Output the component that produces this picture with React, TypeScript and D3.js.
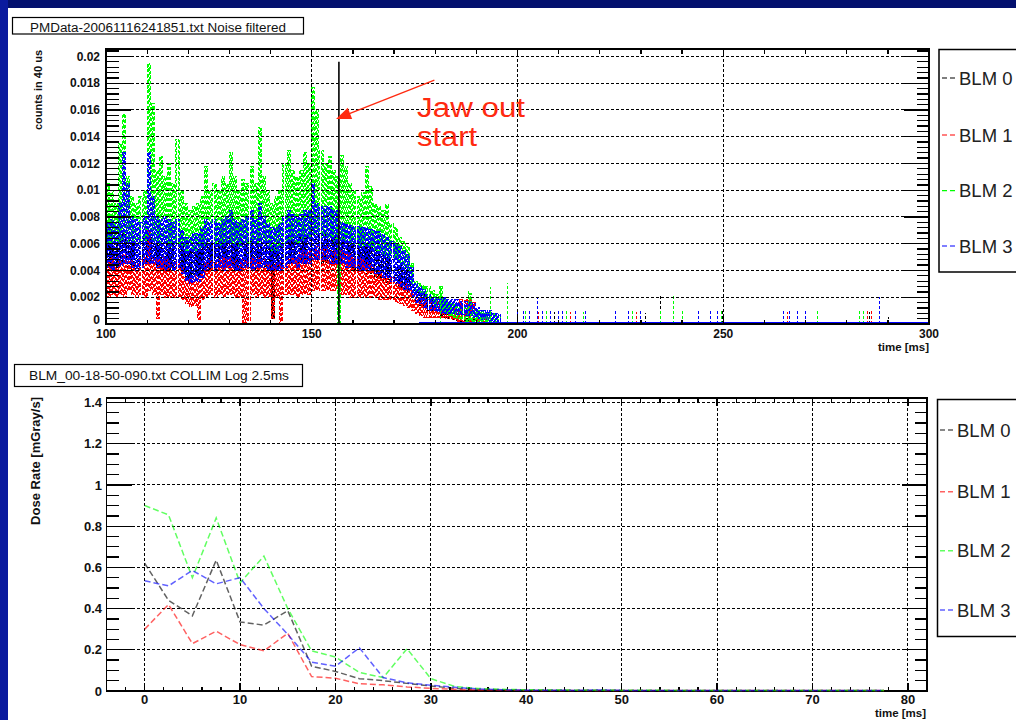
import React from "react";
import * as d3 from "d3";

// ================= TOP PANEL: PMData-20061116241851.txt Noise filtered =================
// Values in units of 0.001 "counts in 40 us". One column per ms starting at pmStartMs.
// hi = top of the noise band in that ms, lo = bottom of the band in that ms.
const pmStartMs = 100;

const blm0Hi = [
  6.0, 6.2, 6.0, 6.5, 7.0, 6.5, 6.0, 6.0, 6.2, 6.5,
  7.0, 6.5, 6.0, 6.0, 6.2, 6.0, 6.0, 6.2, 5.8, 5.5,
  5.5, 5.6, 5.6, 6.0, 6.2, 6.0, 6.0, 6.2, 6.0, 6.2,
  6.5, 6.0, 6.0, 6.0, 6.2, 6.2, 6.0, 6.5, 6.0, 6.0,
  5.8, 5.8, 6.0, 6.2, 6.5, 6.5, 6.2, 6.5, 6.5, 6.5,
  7.0, 7.0, 6.8, 6.8, 6.8, 6.5, 6.5, 6.5, 6.2, 6.2,
  6.0, 6.0, 6.0, 5.8, 5.8, 5.5, 5.5, 5.2, 5.0, 4.8,
  4.6, 4.4, 4.2, 4.0, 3.2, 2.6, 2.4, 2.2, 2.0, 1.8,
  1.6, 1.5, 1.2, 1.0, 0.8, 0.6, 0.5, 0.4, 0.4, 0.3,
  0, 0, 0, 0, 0, 0,
];
const blm0Lo = [
  4.0, 4.2, 4.0, 4.5, 4.5, 4.2, 4.0, 4.0, 4.2, 4.5,
  4.5, 4.5, 4.2, 4.0, 4.2, 4.0, 4.0, 4.2, 3.8, 3.5,
  3.5, 3.6, 3.6, 4.0, 4.2, 4.0, 4.0, 4.2, 4.0, 4.2,
  4.5, 4.0, 4.0, 4.2, 4.2, 4.2, 4.0, 4.5, 4.2, 4.0,
  0.4, 4.0, 4.0, 4.2, 4.5, 4.5, 4.2, 4.5, 4.5, 4.5,
  4.8, 4.8, 4.5, 4.5, 4.5, 4.5, 4.5, 4.5, 4.2, 4.2,
  4.0, 4.0, 4.0, 3.8, 3.8, 3.5, 3.5, 3.2, 3.0, 3.0,
  2.8, 2.6, 2.5, 2.4, 2.0, 1.6, 1.4, 1.2, 1.0, 1.0,
  0.8, 0.6, 0.5, 0.4, 0.3, 0.2, 0, 0, 0, 0,
  0, 0, 0, 0, 0, 0,
];
const blm1Hi = [
  4.8, 5.0, 4.6, 5.0, 5.2, 5.0, 4.8, 4.6, 4.8, 5.0,
  7.0, 5.0, 4.8, 4.8, 5.0, 4.8, 4.6, 4.8, 4.2, 3.5,
  3.4, 3.6, 3.5, 4.0, 4.6, 4.8, 4.6, 4.8, 5.0, 4.8,
  5.0, 4.8, 4.6, 4.8, 4.8, 5.0, 4.8, 5.0, 4.8, 4.6,
  4.4, 4.5, 4.6, 4.8, 5.0, 5.2, 5.0, 5.4, 5.5, 5.5,
  5.8, 5.8, 5.6, 5.8, 5.6, 5.6, 5.5, 5.5, 5.4, 5.2,
  5.0, 5.0, 4.8, 4.6, 4.5, 4.2, 4.0, 3.8, 3.6, 3.5,
  3.4, 3.2, 3.0, 3.0, 2.5, 2.2, 2.0, 2.0, 1.8, 1.8,
  1.8, 1.6, 1.5, 1.5, 1.2, 1.0, 1.8, 1.8, 1.8, 1.6,
  0.5, 0.4, 0.3, 0, 0, 0,
];
const blm1Lo = [
  2.0, 2.2, 2.0, 2.2, 2.0, 2.5, 2.2, 2.0, 2.2, 2.0,
  2.5, 2.2, 0.4, 2.2, 2.0, 2.0, 2.0, 2.0, 1.8, 1.5,
  1.3, 1.4, 0.3, 1.8, 2.0, 2.2, 2.0, 2.2, 2.0, 2.2,
  2.2, 2.0, 2.0, 0, 0, 2.2, 2.0, 2.2, 2.0, 2.0,
  0.4, 2.0, 0, 2.2, 2.2, 2.2, 2.0, 2.2, 2.2, 2.2,
  2.5, 2.5, 2.5, 2.5, 2.5, 2.5, 2.2, 2.2, 2.2, 2.0,
  2.0, 2.0, 2.0, 2.0, 2.0, 2.0, 1.8, 1.8, 1.8, 1.8,
  1.6, 1.5, 1.4, 1.2, 1.0, 0.8, 0.6, 0.5, 0.5, 0.5,
  0.5, 0.5, 0.4, 0.4, 0.3, 0.2, 0.2, 0, 0, 0,
  0, 0, 0, 0, 0, 0,
];
const blm2Hi = [
  10.5, 10.0, 9.0, 13.5, 15.7, 11.0, 9.5, 9.0, 9.5, 10.0,
  19.5, 16.5, 11.5, 12.5, 11.0, 12.0, 10.5, 13.8, 10.0, 9.0,
  8.5, 8.8, 9.0, 9.5, 11.8, 10.0, 10.5, 10.0, 11.0, 10.5,
  12.8, 11.0, 10.0, 10.8, 10.5, 11.8, 10.5, 14.7, 11.0, 10.0,
  9.0, 9.5, 10.0, 12.0, 13.0, 11.5, 11.0, 11.5, 12.8, 12.0,
  17.7, 16.0, 13.0, 12.0, 12.5, 11.5, 11.0, 12.6, 11.8, 10.5,
  10.0, 9.5, 9.8, 11.8, 10.3, 9.0, 8.8, 8.5, 8.9, 7.5,
  7.2, 6.5, 6.2, 5.8, 4.5, 3.2, 3.0, 2.9, 2.8, 2.5,
  2.2, 2.8, 1.8, 1.6, 1.5, 1.4, 1.2, 1.2, 2.3, 1.0,
  1.0, 1.0, 0.8, 0.8, 0.8, 0.6,
];
const blm2Lo = [
  6.0, 6.0, 6.2, 6.0, 6.2, 6.0, 6.0, 5.8, 6.0, 6.0,
  6.5, 6.2, 6.0, 6.0, 6.0, 5.8, 6.0, 6.0, 5.8, 5.5,
  5.5, 5.5, 5.5, 5.8, 6.0, 6.0, 6.0, 5.8, 6.0, 6.0,
  6.0, 6.0, 5.8, 6.0, 6.0, 6.0, 6.0, 6.2, 6.0, 5.8,
  5.5, 5.5, 5.8, 6.0, 6.2, 6.2, 6.0, 6.2, 6.5, 6.5,
  6.8, 6.8, 6.5, 6.5, 6.5, 6.2, 0, 6.2, 6.0, 6.0,
  6.0, 5.8, 5.8, 5.8, 5.8, 5.5, 5.5, 5.2, 5.0, 5.0,
  4.8, 4.5, 4.2, 4.0, 3.0, 2.4, 2.2, 2.0, 1.8, 1.5,
  1.2, 1.0, 0.8, 0.6, 0.5, 0.4, 0.3, 0.2, 0.2, 0,
  0, 0, 0, 0, 0, 0,
];
const blm3Hi = [
  7.5, 7.8, 7.6, 9.0, 12.8, 10.5, 8.0, 7.8, 7.6, 8.0,
  12.8, 9.5, 8.0, 7.8, 8.0, 7.8, 7.6, 7.8, 7.0, 6.5,
  6.5, 6.8, 6.8, 7.2, 7.8, 7.6, 7.8, 7.5, 7.8, 8.0,
  8.5, 7.8, 7.6, 7.8, 8.0, 8.5, 7.8, 9.0, 8.0, 7.5,
  7.2, 7.2, 7.5, 8.0, 8.5, 8.2, 8.0, 8.2, 8.5, 8.5,
  10.5, 9.0, 8.8, 8.8, 8.8, 8.5, 8.5, 7.6, 7.5, 7.4,
  7.3, 7.3, 7.2, 7.2, 7.1, 7.0, 6.9, 6.7, 6.5, 6.2,
  6.0, 5.8, 5.5, 5.2, 4.2, 3.0, 2.8, 2.6, 2.2, 2.0,
  2.0, 2.0, 2.0, 1.8, 1.8, 1.8, 1.7, 1.7, 1.6, 1.5,
  1.2, 1.0, 1.0, 1.0, 0.8, 0.8,
];
const blm3Lo = [
  4.2, 4.0, 4.3, 4.4, 4.5, 4.5, 4.2, 4.0, 4.2, 4.5,
  4.5, 4.5, 4.2, 4.2, 4.0, 4.2, 4.0, 4.2, 3.8, 3.2,
  3.0, 3.2, 3.2, 3.5, 4.0, 4.2, 4.0, 4.2, 4.0, 4.2,
  4.2, 4.0, 4.0, 4.2, 4.2, 4.0, 4.2, 4.2, 4.2, 4.0,
  4.0, 4.0, 4.0, 4.2, 4.5, 4.5, 4.2, 4.5, 4.5, 4.5,
  4.8, 4.8, 4.8, 4.8, 4.5, 4.5, 4.5, 4.5, 4.2, 4.2,
  4.2, 4.0, 4.0, 4.0, 4.0, 3.8, 3.8, 3.5, 3.5, 3.2,
  3.0, 2.8, 2.6, 2.5, 2.0, 1.6, 1.5, 1.2, 1.0, 1.0,
  0.9, 0.8, 0.8, 0.8, 0.8, 0.7, 0.7, 0.6, 0.6, 0.5,
  0.4, 0.3, 0.3, 0.2, 0, 0,
];

// isolated late noise bins: [time ms, value in 0.001]
const blm0Spikes: [number, number][] = [
  [209, 0.9], [231, 0.8], [234.8, 2.1], [249.8, 1.0], [285.5, 0.9], [290.2, 0.5],
];
const blm1Spikes: [number, number][] = [
  [205, 0.9], [213, 0.9], [229, 0.9], [265.5, 0.9], [273, 1.0], [285, 1.0], [286, 1.0],
];
const blm2Spikes: [number, number][] = [
  [181.2, 2.8], [188, 2.5], [193.5, 2.8], [197.5, 3.1], [202, 1.0], [207, 1.0], [212, 1.0],
  [216, 0.9], [228, 1.0], [234.8, 1.0], [237.8, 2.1], [240, 1.0], [249.5, 1.0], [273, 1.0],
  [283, 1.0], [284, 1.0],
];
const blm3Spikes: [number, number][] = [
  [199.9, 1.0], [201.5, 1.0], [203, 1.0], [204.8, 2.0], [206, 1.0], [208, 1.0], [210, 1.0],
  [211, 1.0], [214, 1.0], [216.5, 1.0], [223.8, 1.0], [227, 1.0], [230, 1.0], [243.9, 1.0],
  [247, 1.0], [248.5, 1.0], [264.7, 1.0], [266, 1.0], [268, 1.0], [270, 1.0], [287.9, 2.0],
];
const zeroRun = [176, 300]; // histograms sitting on zero

const pmXTicks = [100, 150, 200, 250, 300];
const pmYTicks = [0, 2, 4, 6, 8, 10, 12, 14, 16, 18, 20];

// annotation "Jaw out start"
const jawOutMs = 156.6;
const jawMarkTop = 19.6;
const arrowTail: [number, number] = [179.8, 18.24];
const arrowTip: [number, number] = [155.9, 15.33];
const jawLines = ["Jaw out", "start"];
const jawTextAt: [number, number][] = [[175.6, 15.48], [175.6, 13.31]];

// ================= BOTTOM PANEL: BLM_00-18-50-090.txt COLLIM Log 2.5ms =================
const doseTimes = [0, 2.5, 5, 7.5, 10, 12.5, 15, 17.5, 20, 22.5, 25, 27.5, 30, 32.5, 35, 37.5,
  40, 42.5, 45, 47.5, 50, 52.5, 55, 57.5, 60, 62.5, 65, 67.5, 70, 72.5, 75, 77.5];
const doseBlm0 = [0.62, 0.44, 0.365, 0.635, 0.335, 0.32, 0.39, 0.12, 0.095, 0.06, 0.05, 0.037, 0.024, 0.013, 0.008, 0.006,
  0.004, 0.004, 0.003, 0.004, 0.003, 0.003, 0.002, 0.003, 0.003, 0.002, 0.002, 0.003, 0.002, 0.002, 0.002, 0.002];
const doseBlm1 = [0.30, 0.42, 0.23, 0.29, 0.225, 0.195, 0.28, 0.07, 0.062, 0.035, 0.03, 0.02, 0.013, 0.008, 0.005, 0.004,
  0.003, 0.003, 0.003, 0.002, 0.002, 0.003, 0.002, 0.002, 0.002, 0.002, 0.002, 0.002, 0.003, 0.002, 0.002, 0.002];
const doseBlm2 = [0.90, 0.855, 0.55, 0.84, 0.525, 0.655, 0.40, 0.195, 0.165, 0.09, 0.065, 0.205, 0.06, 0.022, 0.012, 0.008,
  0.006, 0.005, 0.004, 0.004, 0.003, 0.004, 0.003, 0.003, 0.003, 0.003, 0.003, 0.003, 0.003, 0.003, 0.003, 0.003];
const doseBlm3 = [0.535, 0.51, 0.585, 0.52, 0.55, 0.40, 0.275, 0.14, 0.12, 0.21, 0.065, 0.04, 0.028, 0.018, 0.01, 0.006,
  0.004, 0.004, 0.003, 0.005, 0.003, 0.003, 0.002, 0.003, 0.002, 0.002, 0.002, 0.002, 0.002, 0.002, 0.002, 0.002];
const doseXTicks = [0, 10, 20, 30, 40, 50, 60, 70, 80];
const doseYTicks = [0, 0.2, 0.4, 0.6, 0.8, 1, 1.2, 1.4];

const legendNames = ["BLM 0", "BLM 1", "BLM 2", "BLM 3"];
const seriesColors = ["#000000", "#ff0000", "#00ff00", "#0000ff"];

const FONT = "'Liberation Sans', Arial, Helvetica, sans-serif";

type Sc = d3.ScaleLinear<number, number>;

function AxisFrame(props: {
  x: Sc; y: Sc; xMajor: number[]; xMinor: number[]; yMajor: number[]; yMinor: number[];
  xGrid: number[]; yGrid: number[];
}) {
  const { x, y, xMajor, xMinor, yMajor, yMinor, xGrid, yGrid } = props;
  const [x0, x1] = x.range();
  const [y1, y0] = y.range();
  const els: React.ReactNode[] = [];
  xGrid.forEach((v, i) =>
    els.push(<line key={"gx" + i} x1={x(v)} x2={x(v)} y1={y0} y2={y1} stroke="#000" strokeWidth={1} strokeDasharray="3,2" shapeRendering="crispEdges" />)
  );
  yGrid.forEach((v, i) =>
    els.push(<line key={"gy" + i} x1={x0} x2={x1} y1={y(v)} y2={y(v)} stroke="#000" strokeWidth={1} strokeDasharray="3,2" shapeRendering="crispEdges" />)
  );
  const tick = (k: string, a: number, b: number, c: number, d: number) =>
    els.push(<line key={k} x1={a} y1={b} x2={c} y2={d} stroke="#000" strokeWidth={1.3} shapeRendering="crispEdges" />);
  yMajor.forEach((v, i) => { tick("yl" + i, x0, y(v), x0 + 25, y(v)); tick("yr" + i, x1 - 25, y(v), x1, y(v)); });
  yMinor.forEach((v, i) => { tick("yml" + i, x0, y(v), x0 + 12.5, y(v)); tick("ymr" + i, x1 - 12.5, y(v), x1, y(v)); });
  xMajor.forEach((v, i) => { tick("xb" + i, x(v), y1, x(v), y1 - 8); tick("xt" + i, x(v), y0, x(v), y0 + 8); });
  xMinor.forEach((v, i) => { tick("xmb" + i, x(v), y1, x(v), y1 - 4.5); tick("xmt" + i, x(v), y0, x(v), y0 + 4.5); });
  els.push(<rect key="frame" x={x0} y={y0} width={x1 - x0} height={y1 - y0} fill="none" stroke="#000" strokeWidth={1.5} shapeRendering="crispEdges" />);
  return <g>{els}</g>;
}

export default function App() {
  // scales
  const xT = d3.scaleLinear().domain([100, 300]).range([106, 929]);
  const yT = d3.scaleLinear().domain([0, 20.56]).range([324, 49]);
  const xB = d3.scaleLinear().domain([-4, 82]).range([106.5, 927]);
  const yB = d3.scaleLinear().domain([0, 1.422]).range([691, 398]);

  const pmSeries = [
    { hi: blm0Hi, lo: blm0Lo, spikes: blm0Spikes, color: seriesColors[0] },
    { hi: blm1Hi, lo: blm1Lo, spikes: blm1Spikes, color: seriesColors[1] },
    { hi: blm2Hi, lo: blm2Lo, spikes: blm2Spikes, color: seriesColors[2] },
    { hi: blm3Hi, lo: blm3Lo, spikes: blm3Spikes, color: seriesColors[3] },
  ];
  const histLine = d3.line<[number, number]>().x((d) => xT(d[0])).y((d) => yT(d[1])).curve(d3.curveStepAfter);
  const histPath = (hi: number[], lo: number[]) => {
    const pts: [number, number][] = [];
    hi.forEach((h, i) => {
      const t = pmStartMs + i;
      pts.push([t, h], [t + 0.25, lo[i]], [t + 0.5, h], [t + 0.75, lo[i]]);
    });
    pts.push([pmStartMs + hi.length, lo[lo.length - 1]]);
    return histLine(pts) || "";
  };

  const doseSeries = [doseBlm0, doseBlm1, doseBlm2, doseBlm3];
  const doseLine = d3.line<number>().x((_, i) => xB(doseTimes[i])).y((d) => yB(d));

  // arrow geometry
  const tx = xT(arrowTip[0]), ty = yT(arrowTip[1]);
  const sx = xT(arrowTail[0]), sy = yT(arrowTail[1]);
  const len = Math.hypot(tx - sx, ty - sy);
  const ux = (tx - sx) / len, uy = (ty - sy) / len;
  const hl = 15, hw = 6;
  const bx = tx - ux * hl, by = ty - uy * hl;
  const head = `${tx},${ty} ${bx - uy * hw},${by + ux * hw} ${bx + uy * hw},${by - ux * hw}`;

  const tickFont = { fontFamily: FONT, fontWeight: 700 as const, fill: "#111" };

  return (
    <div style={{ position: "absolute", left: 0, top: 0 }}>
      <svg width={1016} height={720} style={{ display: "block" }}>
        <rect x={0} y={0} width={1016} height={720} fill="#ffffff" />
        <rect x={0} y={0} width={1016} height={8} fill="#03106e" />
        <rect x={0} y={0} width={8} height={720} fill="#0a1a9e" />

        {/* ===== top panel ===== */}
        <rect x={12.5} y={17.5} width={291} height={16.5} fill="#fff" stroke="#000" strokeWidth={1.2} />
        <text x={158} y={31.5} textAnchor="middle" fontFamily={FONT} fontSize={12.5} fill="#111" textLength={256} lengthAdjust="spacingAndGlyphs">
          PMData-20061116241851.txt Noise filtered
        </text>

        <g>
          {pmSeries.map((s, i) => (
            <path key={"h" + i} d={histPath(s.hi, s.lo)} fill="none" stroke={s.color} strokeWidth={1} strokeDasharray="4,2,3,1.5" shapeRendering="crispEdges" />
          ))}
          {pmSeries.map((s, i) =>
            s.spikes.map((p, j) => (
              <line key={"s" + i + "_" + j} x1={xT(p[0])} x2={xT(p[0])} y1={yT(0)} y2={yT(p[1])} stroke={s.color} strokeWidth={1} strokeDasharray="3,2" shapeRendering="crispEdges" />
            ))
          )}
          <line x1={xT(zeroRun[0])} x2={xT(zeroRun[1])} y1={yT(0) - 1} y2={yT(0) - 1} stroke={seriesColors[3]} strokeWidth={2} shapeRendering="crispEdges" />
        </g>

        <AxisFrame x={xT} y={yT} xMajor={pmXTicks} xMinor={d3.range(100, 301, 10)}
          yMajor={pmYTicks} yMinor={d3.range(0, 20.5, 0.4)}
          xGrid={[150, 200, 250]} yGrid={pmYTicks.filter((v) => v > 0)} />

        <line x1={xT(jawOutMs)} x2={xT(jawOutMs)} y1={yT(0)} y2={yT(jawMarkTop)} stroke="#000" strokeWidth={1.6} />
        <line x1={sx} y1={sy} x2={bx + ux * 2} y2={by + uy * 2} stroke="#ff2a10" strokeWidth={1.4} />
        <polygon points={head} fill="#ff2a10" />
        {jawLines.map((t, i) => (
          <text key={"jt" + i} x={xT(jawTextAt[i][0])} y={yT(jawTextAt[i][1])} fontFamily={FONT} fontSize={27} fill="#ff2a10"
            textLength={i === 0 ? 108 : 60} lengthAdjust="spacingAndGlyphs">{t}</text>
        ))}

        {pmYTicks.map((v) => (
          <text key={"yl" + v} x={100} y={yT(v) + (v === 0 ? -0.5 : 4.2)} textAnchor="end" fontSize={12} {...tickFont}>
            {v === 0 ? "0" : String(+(v / 1000).toFixed(3))}
          </text>
        ))}
        {pmXTicks.map((v) => (
          <text key={"xl" + v} x={xT(v)} y={338} textAnchor="middle" fontSize={12} {...tickFont}>{v}</text>
        ))}
        <text x={929} y={351} textAnchor="end" fontSize={11.5} {...tickFont}>time [ms]</text>
        <text transform="translate(41.5,50) rotate(-90)" textAnchor="end" fontSize={11} {...tickFont}>counts in 40 us</text>

        <rect x={939} y={49.5} width={100} height={222.5} fill="#fff" stroke="#000" strokeWidth={1.5} />
        {legendNames.map((n, i) => {
          const cy = [78, 135, 190.7, 246][i];
          return (
            <g key={"lt" + i}>
              <line x1={942} x2={957} y1={cy} y2={cy} stroke={seriesColors[i]} strokeWidth={1.2} strokeDasharray="5,3" />
              <text x={959} y={cy + 6.6} fontFamily={FONT} fontSize={18.5} fill="#222">{n}</text>
            </g>
          );
        })}

        {/* ===== bottom panel ===== */}
        <rect x={14.5} y={364.5} width={288} height={22} fill="#fff" stroke="#000" strokeWidth={1.2} />
        <text x={159} y={380} textAnchor="middle" fontFamily={FONT} fontSize={13} fill="#111" textLength={260} lengthAdjust="spacingAndGlyphs">
          BLM_00-18-50-090.txt COLLIM Log 2.5ms
        </text>

        <AxisFrame x={xB} y={yB} xMajor={doseXTicks} xMinor={d3.range(-4, 82.1, 2)}
          yMajor={doseYTicks} yMinor={d3.range(0, 1.41, 0.05)}
          xGrid={doseXTicks} yGrid={doseYTicks.filter((v) => v > 0)} />

        {doseSeries.map((s, i) => (
          <path key={"d" + i} d={doseLine(s) || ""} fill="none" stroke={seriesColors[i]} strokeOpacity={0.62} strokeWidth={1.5} strokeDasharray="6,3" />
        ))}

        {doseYTicks.map((v) => (
          <text key={"byl" + v} x={102} y={yB(v) + 4.6} textAnchor="end" fontSize={13} {...tickFont}>{String(v)}</text>
        ))}
        {doseXTicks.map((v) => (
          <text key={"bxl" + v} x={xB(v)} y={703.5} textAnchor="middle" fontSize={13} {...tickFont}>{v}</text>
        ))}
        <text x={926} y={717} textAnchor="end" fontSize={11.5} {...tickFont}>time [ms]</text>
        <text transform="translate(39.5,397) rotate(-90)" textAnchor="end" fontSize={13} {...tickFont}>Dose Rate [mGray/s]</text>

        <rect x={937.5} y={399.5} width={100} height={237} fill="#fff" stroke="#000" strokeWidth={1.5} />
        {legendNames.map((n, i) => {
          const cy = [430, 491.7, 550.7, 610][i];
          return (
            <g key={"lb" + i}>
              <line x1={940} x2={955} y1={cy} y2={cy} stroke={seriesColors[i]} strokeOpacity={0.62} strokeWidth={1.5} strokeDasharray="5,3" />
              <text x={957} y={cy + 6.6} fontFamily={FONT} fontSize={18.5} fill="#222">{n}</text>
            </g>
          );
        })}
      </svg>
    </div>
  );
}
